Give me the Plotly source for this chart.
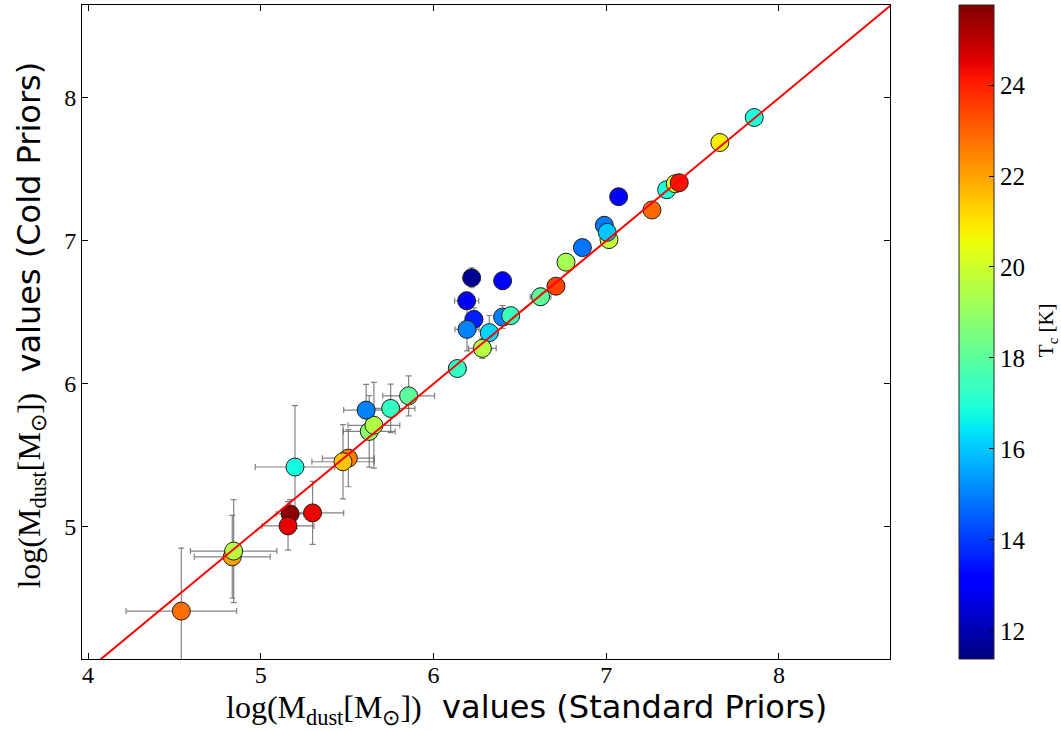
import numpy as np
import plotly.graph_objects as go

# data, ordered back-to-front
x_std = [4.54, 4.835, 4.843, 5.17, 5.158, 5.30, 5.198, 5.507, 5.476, 5.628, 5.655, 5.61, 5.752, 5.856,
         6.138, 6.234, 6.194, 6.323, 6.283, 6.40, 6.447, 6.192, 6.221, 6.40, 6.62, 6.709, 6.767, 6.862,
         7.016, 6.989, 7.006, 7.072, 7.265, 7.35, 7.40, 7.423, 7.658, 7.857]
y_cold = [4.41, 4.79, 4.83, 5.09, 5.006, 5.097, 5.418, 5.48, 5.455, 5.667, 5.71, 5.816, 5.828, 5.916,
          6.107, 6.451, 6.381, 6.358, 6.248, 6.467, 6.477, 6.581, 6.742, 6.721, 6.609, 6.683, 6.851, 6.953,
          7.009, 7.109, 7.06, 7.309, 7.216, 7.358, 7.40, 7.407, 7.688, 7.863]
t_cold = [22.8, 22.0, 19.6, 25.6, 24.5, 24.4, 16.8, 22.6, 21.5, 18.8, 19.5, 15.0, 17.3, 18.0,
          17.3, 13.6, 15.0, 16.2, 19.6, 15.0, 17.4, 12.9, 11.6, 13.0, 18.0, 23.5, 19.3, 14.8,
          19.8, 14.9, 16.0, 13.1, 22.9, 16.9, 20.6, 24.2, 20.8, 16.9]
x_err = [0.32, 0.22, 0.25, 0.08, 0.15, 0.18, 0.23, 0.15, 0.18, 0.15, 0.15, 0.13, 0.14, 0.15,
         0.05, 0.05, 0.07, 0.05, 0.08, 0.04, 0.04, 0.07, 0.03, 0.03, 0.06, 0.02, 0.02, 0.02,
         0.02, 0.02, 0.02, 0.02, 0.02, 0.02, 0.02, 0.02, 0.02, 0.02]
y_err = [0.44, 0.29, 0.36, 0.10, 0.17, 0.22, 0.43, 0.20, 0.26, 0.25, 0.30, 0.18, 0.17, 0.14,
         0.05, 0.08, 0.15, 0.12, 0.07, 0.08, 0.04, 0.06, 0.07, 0.06, 0.06, 0.02, 0.02, 0.02,
         0.02, 0.02, 0.02, 0.02, 0.02, 0.02, 0.02, 0.02, 0.02, 0.02]
one_to_one = [3.9, 8.7]
x_ticks = [4, 5, 6, 7, 8]
y_ticks = [5, 6, 7, 8]
cbar_ticks = [12, 14, 16, 18, 20, 22, 24]
t_min, t_max = 11.38, 25.76

# matplotlib "jet" colormap
def jet_scale(n=64):
    r = [(0, 0), (0.35, 0), (0.66, 1), (0.89, 1), (1, 0.5)]
    g = [(0, 0), (0.125, 0), (0.375, 1), (0.64, 1), (0.91, 0), (1, 0)]
    b = [(0, 0.5), (0.11, 1), (0.34, 1), (0.65, 0), (1, 0)]
    out = []
    for s in np.linspace(0, 1, n):
        c = [np.interp(s, [p[0] for p in ch], [p[1] for p in ch]) for ch in (r, g, b)]
        out.append([float(s), "rgb(%d,%d,%d)" % tuple(int(round(v * 255)) for v in c)])
    return out

serif = "Liberation Serif, DejaVu Serif, serif"
sans = "DejaVu Sans, sans-serif"

fig = go.Figure()
fig.add_trace(go.Scatter(
    x=x_std, y=y_cold, mode="markers",
    error_x=dict(type="data", array=x_err, color="rgba(90,90,90,0.75)", thickness=1.2, width=3),
    error_y=dict(type="data", array=y_err, color="rgba(90,90,90,0.75)", thickness=1.2, width=3),
    marker=dict(size=18, color=t_cold, cmin=t_min, cmax=t_max, colorscale=jet_scale(),
                line=dict(color="rgb(30,30,30)", width=1), opacity=1,
                colorbar=dict(x=1.0854, xanchor="left", xpad=0, ypad=0, y=0.5, yanchor="middle",
                              len=1, lenmode="fraction", thickness=35, thicknessmode="pixels",
                              outlinewidth=1, outlinecolor="rgb(40,40,40)",
                              tickvals=cbar_ticks, ticks="inside", ticklen=5, tickcolor="black",
                              tickfont=dict(family=serif, size=25, color="black"))),
    showlegend=False, hoverinfo="skip"))
fig.add_trace(go.Scatter(x=one_to_one, y=one_to_one, mode="lines",
                         line=dict(color="red", width=2), showlegend=False, hoverinfo="skip"))

axis_common = dict(showgrid=False, zeroline=False, showline=True, linecolor="black", linewidth=1,
                   mirror="ticks", ticks="inside", ticklen=6, tickcolor="black",
                   tickfont=dict(family=serif, size=24, color="black"))
title_math = "<span style='font-family:Liberation Serif'>log(M<sub>dust</sub>[M<sub>⊙</sub>])</span>"
fig.update_layout(
    width=1061, height=731,
    margin=dict(l=82, r=171, t=5, b=72),
    paper_bgcolor="white", plot_bgcolor="white",
    xaxis=dict(range=[3.965, 8.643], tickvals=x_ticks, ticklabelstandoff=-6, **axis_common),
    yaxis=dict(range=[4.075, 8.65], tickvals=y_ticks, **axis_common),
    annotations=[
        dict(text=title_math + "  values (Standard Priors)", xref="paper", yref="paper",
             x=0.5507, y=-0.076, xanchor="center", yanchor="middle", showarrow=False,
             font=dict(family=sans, size=32, color="black")),
        dict(text=title_math + "  values (Cold Priors)", xref="paper", yref="paper",
             x=-0.063, y=0.51, xanchor="center", yanchor="middle", showarrow=False, textangle=-90,
             font=dict(family=sans, size=32, color="black")),
        dict(text="T<sub>c</sub> [K]", xref="paper", yref="paper",
             x=1.1945, y=0.503, xanchor="center", yanchor="middle", showarrow=False, textangle=-90,
             font=dict(family=serif, size=21, color="black")),
    ],
)
fig.write_html("out.html")
